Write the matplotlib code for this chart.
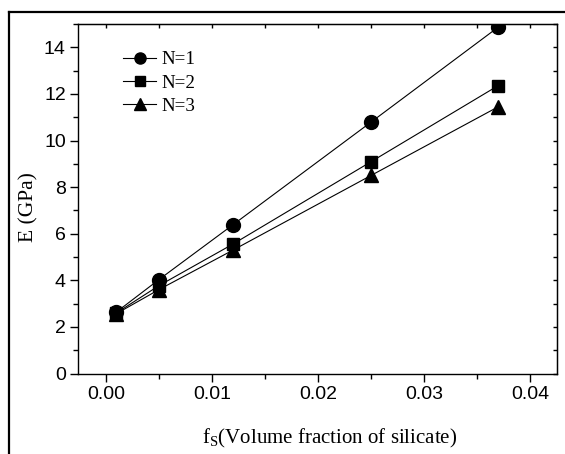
import matplotlib
matplotlib.use("Agg")
import matplotlib.pyplot as plt
from matplotlib.lines import Line2D
from matplotlib.ticker import MultipleLocator

# data
fs = [0.001, 0.005, 0.012, 0.025, 0.037]
E_n1 = [2.64, 4.03, 6.39, 10.79, 14.87]
E_n2 = [2.60, 3.77, 5.56, 9.09, 12.36]
E_n3 = [2.57, 3.60, 5.30, 8.50, 11.45]
labels = ["N=1", "N=2", "N=3"]
xticks = [0.0, 0.01, 0.02, 0.03, 0.04]
xticklabels = ["0.00", "0.01", "0.02", "0.03", "0.04"]

W, H = 565, 454
fig = plt.figure(figsize=(W / 100, H / 100), dpi=100)

# axes box in pixels: left 78.3, right 556.7, top 24, bottom 373.5
ax = fig.add_axes([78.3 / W, 1 - 373.5 / H, (556.7 - 78.3) / W, (373.5 - 24) / H])

ax.plot(fs, E_n1, color="black", lw=0.8, marker="o", ms=10, label=labels[0])
ax.plot(fs, E_n2, color="black", lw=0.8, marker="s", ms=8.5, label=labels[1])
ax.plot(fs, E_n3, color="black", lw=0.8, marker="^", ms=10, label=labels[2])

ax.set_xlim(-0.0026, 0.0425)
ax.set_ylim(0, 15)
ax.set_xticks(xticks)
ax.set_xticklabels(xticklabels)
ax.xaxis.set_minor_locator(MultipleLocator(0.005))
ax.yaxis.set_major_locator(MultipleLocator(2))
ax.yaxis.set_minor_locator(MultipleLocator(1))

for t in ax.get_xticklabels() + ax.get_yticklabels():
    t.set_fontfamily("Liberation Sans")
    t.set_fontsize(14)

ax.tick_params(which="major", direction="out", length=6, width=1, pad=3)
ax.tick_params(which="minor", direction="out", length=3.5, width=1)

# top / right ticks without labels, pointing inward
top = ax.secondary_xaxis("top")
top.xaxis.set_major_locator(MultipleLocator(0.01))
top.xaxis.set_minor_locator(MultipleLocator(0.005))
top.tick_params(which="both", direction="in", length=3, width=1, labeltop=False)
right = ax.secondary_yaxis("right")
right.yaxis.set_major_locator(MultipleLocator(2))
right.yaxis.set_minor_locator(MultipleLocator(1))
right.tick_params(which="both", direction="in", length=3, width=1, labelright=False)

for sp in ax.spines.values():
    sp.set_linewidth(1.0)

fig.text(28.5 / W, 1 - 207 / H, "E (GPa)", family="Liberation Serif", fontsize=15.5,
         rotation=90, ha="center", va="center")
fig.text(330 / W, 1 - 438 / H, r"f$_\mathregular{S}$(Volume fraction of silicate)",
         family="Liberation Serif", fontsize=15, ha="center", va="center")

ax.legend(loc="upper left", bbox_to_anchor=((123 - 78.3) / 478.4, 1 - (51 - 24) / 349.5),
          frameon=False, borderpad=0, borderaxespad=0,
          handlelength=1.75, handletextpad=0.25, labelspacing=0.32,
          prop={"family": "Liberation Serif", "size": 13.7}, markerscale=0.8)

# outer frame lines (left and top only)
fig.add_artist(Line2D([8.5 / W, 8.5 / W], [0, 1 - 12 / H], transform=fig.transFigure,
                      color="black", lw=1.6))
fig.add_artist(Line2D([8.5 / W, 1], [1 - 12 / H, 1 - 12 / H], transform=fig.transFigure,
                      color="black", lw=1.6))

fig.savefig("out.png", dpi=100)
